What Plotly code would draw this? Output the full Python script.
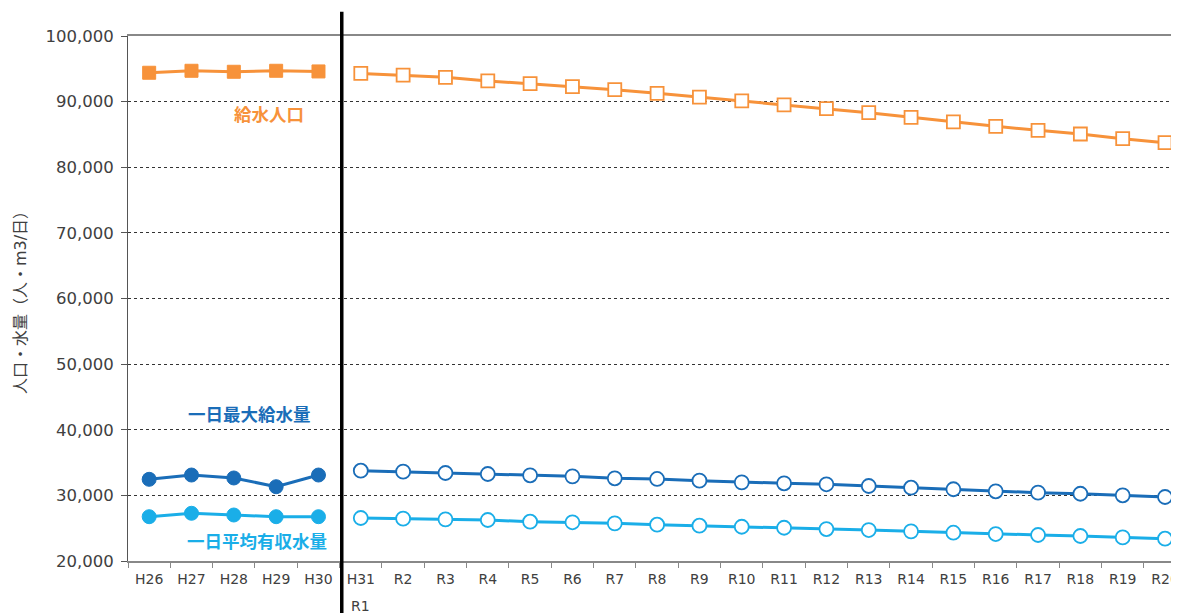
import plotly.graph_objects as go

# categories
years_past = ["H26", "H27", "H28", "H29", "H30"]
years_future = ["H31", "R2", "R3", "R4", "R5", "R6", "R7", "R8", "R9", "R10",
                "R11", "R12", "R13", "R14", "R15", "R16", "R17", "R18", "R19", "R20"]

# 給水人口
pop_past = [94400, 94700, 94550, 94700, 94600]
pop_future = [94300, 94050, 93700, 93150, 92730, 92280, 91820, 91270, 90700, 90100,
              89490, 88930, 88320, 87610, 86900, 86240, 85630, 85070, 84350, 83740]

# 一日最大給水量
max_past = [32450, 33100, 32650, 31320, 33100]
max_future = [33760, 33610, 33410, 33260, 33060, 32900, 32600, 32500, 32240, 31990,
              31840, 31690, 31430, 31170, 30930, 30620, 30410, 30250, 30010, 29750]

# 一日平均有収水量
avg_past = [26750, 27270, 27010, 26750, 26750]
avg_future = [26550, 26450, 26350, 26250, 25990, 25900, 25740, 25530, 25380, 25220,
              25070, 24870, 24720, 24520, 24310, 24110, 23960, 23810, 23600, 23400]

ORANGE = "#F7923A"
DARK_BLUE = "#1A6DB8"
LIGHT_BLUE = "#1AAEE8"
FONT = "DejaVu Sans, Noto Sans CJK JP, sans-serif"

fig = go.Figure()


def add_pair(past, future, colour, symbol, size):
    # actual values: filled markers
    fig.add_trace(go.Scatter(
        x=years_past, y=past, mode="lines+markers",
        line=dict(color=colour, width=3),
        marker=dict(symbol=symbol, size=size, color=colour,
                    line=dict(color=colour, width=1)),
        showlegend=False,
    ))
    # forecast: open markers
    fig.add_trace(go.Scatter(
        x=years_future, y=future, mode="lines+markers",
        line=dict(color=colour, width=3),
        marker=dict(symbol=symbol, size=size, color="white",
                    line=dict(color=colour, width=1.8)),
        showlegend=False,
    ))


add_pair(pop_past, pop_future, ORANGE, "square", 13)
add_pair(max_past, max_future, DARK_BLUE, "circle", 14)
add_pair(avg_past, avg_future, LIGHT_BLUE, "circle", 14)

# separator between actual and forecast
fig.add_shape(type="line", xref="x", yref="paper",
              x0=4.55, x1=4.55, y0=-0.12, y1=1.046,
              line=dict(color="black", width=3.5))

labels = [
    ("給水人口", 2.83, 88000, ORANGE),
    ("一日最大給水量", 2.36, 42250, DARK_BLUE),
    ("一日平均有収水量", 2.55, 22900, LIGHT_BLUE),
]
for text, x, y, colour in labels:
    fig.add_annotation(x=x, y=y, xref="x", yref="y", text=f"<b>{text}</b>",
                       showarrow=False, font=dict(size=17.5, color=colour, family=FONT))

# second line of the H31 tick (R1)
fig.add_annotation(x="H31", y=-0.085, xref="x", yref="paper", text="R1",
                   showarrow=False, yanchor="middle",
                   font=dict(size=14, color="#404040", family=FONT))

# page body has an 8px margin: size the figure so it fits the window exactly
fig.update_layout(
    width=1171, height=605,
    paper_bgcolor="white", plot_bgcolor="white",
    font=dict(family=FONT, color="#404040"),
    margin=dict(l=120, r=0, t=28, b=52),
    xaxis=dict(
        type="category",
        categoryorder="array", categoryarray=years_past + years_future,
        range=[-0.5, 24.33],
        tickson="boundaries", ticks="outside", ticklen=5, tickcolor="#888888",
        showline=True, linecolor="#888888", linewidth=2, mirror=True,
        showgrid=False, tickfont=dict(size=14, color="#404040"),
        ticklabelstandoff=4, automargin=False,
    ),
    yaxis=dict(
        range=[20000, 100000], dtick=10000, tickformat=",d",
        showgrid=True, gridcolor="#333333", griddash="3px,3px", gridwidth=1,
        showline=True, linecolor="#555555", linewidth=1,
        ticks="outside", ticklen=6, tickcolor="#555555",
        tickfont=dict(size=16.5, color="#404040"), ticklabelstandoff=4,
        title=dict(text="人口・水量（人・m3/日）", font=dict(size=16, color="#404040"),
                   standoff=14),
        zeroline=False, automargin=False,
    ),
)

fig.write_html("out.html")
